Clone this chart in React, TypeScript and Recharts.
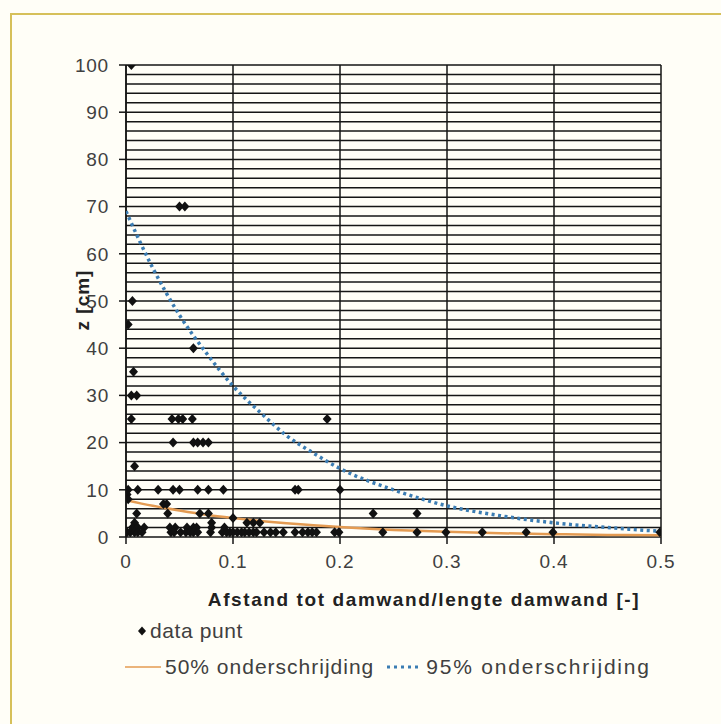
import React from "react";
import {
  ScatterChart,
  Scatter,
  XAxis,
  YAxis,
  CartesianGrid,
  ReferenceLine,
} from "recharts";

const BG = "#fffef7";
const FRAME = "#d6c05a";
const GRID = "#151515";
const TEXT = "#404040";
const ORANGE = "#e49b52";
const BLUE = "#3b7db3";
const FONT = "'Liberation Sans', Arial, sans-serif";

const X_TICKS = [0, 0.1, 0.2, 0.3, 0.4, 0.5];
const Y_TICKS = [0, 10, 20, 30, 40, 50, 60, 70, 80, 90, 100];
const GRID_Y = [
  2, 4, 6, 8, 10, 12, 14, 16, 18, 20, 22, 24, 26, 28, 30, 32, 34, 36, 38, 40,
  42, 44, 46, 48, 50, 52, 54, 56, 58, 60, 62, 64, 66, 68, 70, 72, 74, 76, 78, 80,
  82, 84, 86, 88, 90, 92, 94, 96, 98, 100,
];

// meetpunten [afstand/lengte, z]
const DATA_PUNT: [number, number][] = [
  [0.005, 100], [0.05, 70], [0.055, 70], [0.006, 50], [0.002, 45], [0.063, 40],
  [0.007, 35], [0.005, 30], [0.01, 30], [0.005, 25], [0.043, 25], [0.049, 25],
  [0.053, 25], [0.062, 25], [0.188, 25], [0.044, 20], [0.063, 20], [0.067, 20],
  [0.072, 20], [0.077, 20], [0.008, 15],
  [0.002, 10], [0.011, 10], [0.03, 10], [0.044, 10], [0.05, 10], [0.067, 10],
  [0.077, 10], [0.091, 10], [0.158, 10], [0.161, 10], [0.2, 10],
  [0.001, 9], [0.002, 8], [0.035, 7], [0.038, 7],
  [0.01, 5], [0.039, 5], [0.069, 5], [0.077, 5], [0.231, 5], [0.272, 5],
  [0.1, 4], [0.113, 3], [0.119, 3], [0.125, 3], [0.008, 3], [0.08, 3],
  [0.006, 2], [0.011, 2], [0.017, 2], [0.041, 2], [0.046, 2], [0.057, 2],
  [0.063, 2], [0.066, 2], [0.08, 2], [0.092, 2],
  [0.001, 1], [0.004, 1], [0.008, 1], [0.011, 1], [0.015, 1], [0.042, 1],
  [0.045, 1], [0.051, 1], [0.056, 1], [0.06, 1], [0.063, 1], [0.067, 1],
  [0.079, 1], [0.09, 1], [0.094, 1], [0.097, 1], [0.1, 1], [0.104, 1],
  [0.108, 1], [0.111, 1], [0.115, 1], [0.119, 1], [0.122, 1], [0.129, 1],
  [0.135, 1], [0.14, 1], [0.147, 1], [0.158, 1], [0.165, 1], [0.17, 1],
  [0.174, 1], [0.178, 1], [0.195, 1], [0.199, 1], [0.24, 1], [0.272, 1],
  [0.299, 1], [0.333, 1], [0.374, 1], [0.399, 1], [0.499, 1],
];

const CURVE_X = [0, 0.025, 0.05, 0.075, 0.1, 0.125, 0.15, 0.175, 0.2, 0.25, 0.3, 0.35, 0.4, 0.45, 0.5];
const P50 = [7.8, 6.6, 5.6, 4.7, 4.0, 3.4, 2.9, 2.5, 2.1, 1.5, 1.1, 0.8, 0.6, 0.45, 0.35];
const P95 = [69, 57, 47, 39, 32, 26.5, 21.5, 17.8, 14.5, 10, 6.6, 4.5, 3.0, 2.0, 1.2];

const punten = DATA_PUNT.map(([x, y]) => ({ x, y }));
const curve50 = CURVE_X.map((x, i) => ({ x, y: P50[i] }));
const curve95 = CURVE_X.map((x, i) => ({ x, y: P95[i] }));

function Diamond(props: any) {
  const { cx, cy } = props;
  if (cx == null || cy == null) return <g />;
  return (
    <polygon
      points={`${cx},${cy - 5} ${cx + 4.5},${cy} ${cx},${cy + 5} ${cx - 4.5},${cy}`}
      fill="#111"
    />
  );
}

const NoDot = () => <g />;

const tickStyle = { fill: TEXT, fontSize: 19, fontFamily: FONT, letterSpacing: 0.8 };

export default function App() {
  return (
    <div
      style={{
        position: "absolute",
        left: 0,
        top: 0,
        width: 721,
        height: 724,
        background: BG,
        overflow: "hidden",
        fontFamily: FONT,
      }}
    >
      <div
        style={{
          position: "absolute",
          left: 10,
          top: 13,
          width: 740,
          height: 740,
          borderTop: `2px solid ${FRAME}`,
          borderLeft: `2px solid ${FRAME}`,
        }}
      />
      <div style={{ position: "absolute", left: 0, top: 0 }}>
        <ScatterChart
          width={721}
          height={724}
          margin={{ top: 65, right: 60, bottom: 147, left: 60 }}
        >
          <CartesianGrid
            stroke={GRID}
            strokeWidth={1.5}
            horizontal={false}
            verticalValues={X_TICKS}
          />
          {GRID_Y.map((v) => (
            <ReferenceLine key={v} y={v} stroke={GRID} strokeWidth={1.5} />
          ))}
          <XAxis
            type="number"
            dataKey="x"
            domain={[0, 0.5]}
            ticks={X_TICKS}
            allowDataOverflow
            height={40}
            tickSize={7}
            tickMargin={11}
            stroke={GRID}
            strokeWidth={1.5}
            tick={tickStyle}
          />
          <YAxis
            type="number"
            dataKey="y"
            domain={[0, 100]}
            ticks={Y_TICKS}
            allowDataOverflow
            width={66}
            tickSize={7}
            tickMargin={10}
            stroke={GRID}
            strokeWidth={1.5}
            tick={tickStyle}
          />
          <Scatter
            name="50% onderschrijding"
            data={curve50}
            line={{ stroke: ORANGE, strokeWidth: 2.5 }}
            lineJointType="monotoneX"
            shape={NoDot}
            isAnimationActive={false}
          />
          <Scatter
            name="95% onderschrijding"
            data={curve95}
            line={{ stroke: BLUE, strokeWidth: 3.5, strokeDasharray: "3 3.5" }}
            lineJointType="monotoneX"
            shape={NoDot}
            isAnimationActive={false}
          />
          <Scatter
            name="data punt"
            data={punten}
            shape={Diamond}
            isAnimationActive={false}
          />
        </ScatterChart>
      </div>

      {/* as-titels */}
      <div
        style={{
          position: "absolute",
          left: 83,
          top: 300,
          transform: "translate(-50%, -50%) rotate(-90deg)",
          fontWeight: "bold",
          fontSize: 19,
          letterSpacing: 1,
          color: "#222",
          whiteSpace: "nowrap",
        }}
      >
        z [cm]
      </div>
      <div
        style={{
          position: "absolute",
          left: 424,
          top: 600,
          transform: "translate(-50%, -50%)",
          fontWeight: "bold",
          fontSize: 19,
          letterSpacing: 1.6,
          color: "#222",
          whiteSpace: "nowrap",
        }}
      >
        Afstand tot damwand/lengte damwand [-]
      </div>

      {/* legenda */}
      <div
        style={{
          position: "absolute",
          left: 136,
          top: 619,
          fontSize: 21,
          letterSpacing: 0.6,
          color: TEXT,
          display: "flex",
          alignItems: "center",
          whiteSpace: "nowrap",
        }}
      >
        <svg width={12} height={14} style={{ marginRight: 2 }}>
          <polygon points="6,2.5 10,7 6,11.5 2,7" fill="#111" />
        </svg>
        data punt
      </div>
      <div
        style={{
          position: "absolute",
          left: 124,
          top: 655,
          fontSize: 21,
          letterSpacing: 1,
          color: TEXT,
          display: "flex",
          alignItems: "center",
          whiteSpace: "nowrap",
        }}
      >
        <svg width={38} height={14} style={{ marginRight: 3 }}>
          <line x1={1} y1={7} x2={37} y2={7} stroke={ORANGE} strokeWidth={1.5} />
        </svg>
        50% onderschrijding
        <svg width={36} height={14} style={{ marginLeft: 12, marginRight: 4 }}>
          <line x1={1} y1={7} x2={35} y2={7} stroke={BLUE} strokeWidth={3} strokeDasharray="3 4" />
        </svg>
        <span style={{ letterSpacing: 1.8 }}>95% onderschrijding</span>
      </div>
    </div>
  );
}
